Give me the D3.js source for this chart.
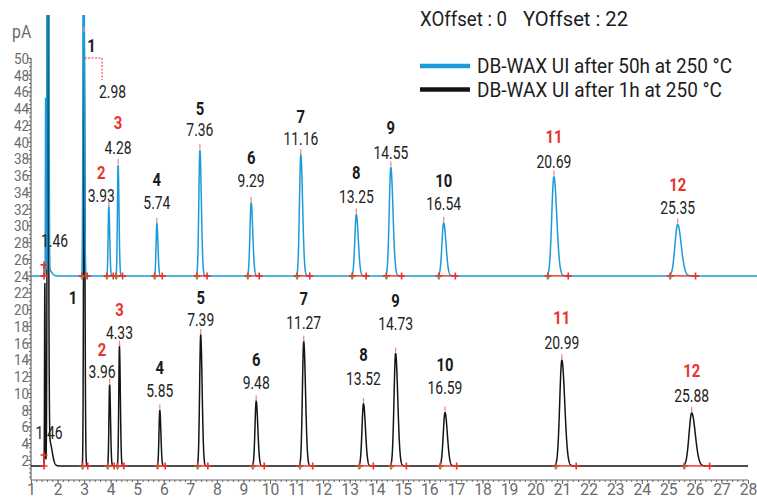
<!DOCTYPE html>
<html><head><meta charset="utf-8">
<script src="https://cdn.jsdelivr.net/npm/d3@7"></script>
<style>
html,body{margin:0;padding:0;background:#fff;}
svg{display:block;font-family:Roboto,"Liberation Sans",Arial,sans-serif;}
</style></head><body>
<svg id="chart" width="757" height="500"></svg>
<script>
// ================= DATA =================
const xTicks = d3.range(1, 29);            // retention time (min)
const yTicks = d3.range(2, 51, 2);         // signal (pA)
const xOffset = 0, yOffset = 22;

const peakIds  = ["1","2","3","4","5","6","7","8","9","10","11","12"];
const redPeaks = ["2","3","11","12"];

const seriesNames = ["DB-WAX UI after 50h at 250 °C", "DB-WAX UI after 1h at 250 °C"];

// Blue: after 50h (raw signal; shown with +22 pA offset)
const blueRT    = [2.98, 3.93, 4.28, 5.74, 7.36, 9.29, 11.16, 13.25, 14.55, 16.54, 20.69, 25.35];
const blueApex  = [60, 10.2, 15.2, 8.2, 17.0, 10.7, 16.4, 9.3, 14.9, 8.3, 13.8, 8.1];
const blueSigma = [0.02, 0.025, 0.025, 0.03, 0.04, 0.045, 0.05, 0.055, 0.06, 0.065, 0.08, 0.1];
const blueBase  = 1.97;
const blueSolventRT    = [1.55, 1.62, 1.66, 1.71];
const blueSolventApex  = [23.6, 70, 70, 2.6];
const blueSolventSigma = [0.008, 0.012, 0.012, 0.06];

// Black: after 1h
const blackRT    = [3.00, 3.96, 4.33, 5.85, 7.39, 9.48, 11.27, 13.52, 14.73, 16.59, 20.99, 25.88];
const blackApex  = [53, 11.0, 15.5, 7.9, 16.9, 9.0, 16.1, 8.7, 14.7, 7.65, 13.9, 7.6];
const blackSigma = [0.02, 0.025, 0.025, 0.03, 0.04, 0.045, 0.05, 0.055, 0.06, 0.065, 0.08, 0.1];
const blackBase  = 1.28;
const blackSolventRT    = [1.52, 1.63, 1.70];
const blackSolventApex  = [23, 70, 4.2];
const blackSolventSigma = [0.01, 0.02, 0.07];

const solventLabel = "1.46";

// ================= LAYOUT =================
const W = 757, H = 500;
const blueRtLift   = [0, 12, 18, 21, 21, 22, 17, 18, 15, 20, 15, 17];
const blueNumLift  = [0, 35, 43, 44, 42, 45, 39, 42, 40, 43, 40, 40];
const blackRtLift  = [0, 13, 14, 20, 16, 19, 19, 25, 30, 25, 18, 18];
const blackNumLift = [0, 35, 37, 43, 38, 42, 43, 49, 53, 48, 43, 43];
const labelShiftX  = [0, -7.5, 0, 0, 0, 0, 0, 0, 0, 0, 0, 0];

const BLUE = "#1b9bd8", BLACK = "#141414", RED = "#e8322a", AXIS = "#666", TICKTXT = "#6b6b6b";

const svg = d3.select("#chart");
const x = d3.scaleLinear().domain([1, 28]).range([31, 748]);
const y = d3.scaleLinear().domain([-0.4, 55]).range([480, 16]);

// ---------- axes ----------
const gyMinor = svg.append("g").attr("transform", "translate(31,0)")
  .call(d3.axisLeft(y).tickValues(d3.range(0, 50.01, 0.5)).tickSize(2).tickFormat(""));
const gy = svg.append("g").attr("transform", "translate(31,0)")
  .call(d3.axisLeft(y).tickValues(yTicks).tickSize(4).tickPadding(3));
[gyMinor, gy].forEach(g => { g.select(".domain").remove(); g.selectAll("line").attr("stroke", AXIS); });
gy.selectAll("text").attr("x", -2).attr("y", 0).attr("dy", "0.36em")
  .attr("transform", "scale(0.95,1.05)")
  .attr("font-size", 14.2).attr("fill", TICKTXT).attr("font-family", "Roboto");
svg.append("line").attr("x1", 31).attr("x2", 31).attr("y1", y(50)).attr("y2", 480)
  .attr("stroke", AXIS).attr("stroke-width", 1.2);

const gxMinor = svg.append("g").attr("transform", "translate(0,480)")
  .call(d3.axisBottom(x).tickValues(d3.range(1, 28.01, 0.2)).tickSize(2).tickFormat(""));
const gx = svg.append("g").attr("transform", "translate(0,480)")
  .call(d3.axisBottom(x).tickValues(xTicks).tickSize(4).tickPadding(2));
[gxMinor, gx].forEach(g => { g.select(".domain").remove(); g.selectAll("line").attr("stroke", AXIS); });
gx.selectAll("text").attr("transform", "scale(0.95,1)").attr("y", 3.5).attr("dy", "0.71em")
  .attr("font-size", 16.5).attr("fill", TICKTXT).attr("font-family", "Roboto");
svg.append("line").attr("x1", 31).attr("x2", 748).attr("y1", 480).attr("y2", 480)
  .attr("stroke", AXIS).attr("stroke-width", 1.2);

svg.append("text").attr("font-size", 18).attr("fill", TICKTXT)
  .attr("transform", "translate(12,38) scale(0.88,1)").text("pA");

// ---------- traces ----------
function signal(t, base, rts, apex, sig) {
  let v = base;
  for (let i = 0; i < rts.length; i++) {
    const s = t < rts[i] ? sig[i] : sig[i] * 1.35;
    const z = (t - rts[i]) / s;
    if (Math.abs(z) < 8) v += (apex[i] - base) * Math.exp(-0.5 * z * z);
  }
  return v;
}
const blueAllRT = blueSolventRT.concat(blueRT), blueAllA = blueSolventApex.concat(blueApex), blueAllS = blueSolventSigma.concat(blueSigma);
const blackAllRT = blackSolventRT.concat(blackRT), blackAllA = blackSolventApex.concat(blackApex), blackAllS = blackSolventSigma.concat(blackSigma);

const tBlack = d3.range(1, 28.0001, 0.004);
const tBlue = d3.range(1, 28.36, 0.004);
const blackPts = tBlack.map(t => [t, signal(t, blackBase, blackAllRT, blackAllA, blackAllS)]);
const bluePts = tBlue.map(t => [t, signal(t, blueBase, blueAllRT, blueAllA, blueAllS) + yOffset]);

svg.append("clipPath").attr("id", "clip").append("rect")
  .attr("x", 31).attr("y", 15).attr("width", W - 31).attr("height", 465);
const line = d3.line().x(d => x(d[0] + xOffset)).y(d => y(d[1]));
const plot = svg.append("g").attr("clip-path", "url(#clip)");
plot.append("path").datum(blackPts).attr("d", line).attr("fill", "none")
  .attr("stroke", BLACK).attr("stroke-width", 1.5);
plot.append("path").datum(bluePts).attr("d", line).attr("fill", "none")
  .attr("stroke", BLUE).attr("stroke-width", 1.5);

// ---------- integration marks ----------
function plus(g, px, py) {
  g.append("path").attr("d", `M${px-3.5},${py}H${px+3.5}M${px},${py-3.5}V${py+3.5}`)
    .attr("stroke", RED).attr("stroke-width", 1.6).attr("fill", "none");
}
function marks(rts, apex, sig, base, off) {
  const g = svg.append("g");
  const by = y(base + off);
  rts.forEach((rt, i) => {
    const s = rt - 2.8 * sig[i], e = rt + 5 * sig[i] * 1.35;
    g.append("line").attr("x1", x(s)).attr("x2", x(e)).attr("y1", by).attr("y2", by)
      .attr("stroke", RED).attr("stroke-width", 1.4);
    plus(g, x(s), by); plus(g, x(e), by);
    g.append("circle").attr("cx", x(s)).attr("cy", by + 1.5).attr("r", 1.5).attr("fill", "#6aa84f");
    const ay = y(apex[i] + off);
    if (ay > 20) g.append("line").attr("x1", x(rt)).attr("x2", x(rt)).attr("y1", ay - 1).attr("y2", ay - 6)
      .attr("stroke", "#f08a8a").attr("stroke-width", 1.3);
  });
  // solvent marker
  const sx = x(1.49);
  g.append("line").attr("x1", sx).attr("x2", sx).attr("y1", by).attr("y2", by - 11)
    .attr("stroke", RED).attr("stroke-width", 1.5);
  plus(g, sx, by); plus(g, sx, by - 11);
}
marks(blackRT, blackApex, blackSigma, blackBase, 0);
marks(blueRT, blueApex, blueSigma, blueBase, yOffset);

// ---------- peak labels ----------
function txt(str, cx, cy, size, bold, color, sx) {
  const cap = size * 0.36;
  svg.append("text").attr("transform", `translate(${cx},${cy + cap}) scale(${sx},1)`)
    .attr("text-anchor", "middle").attr("font-size", size)
    .attr("font-weight", bold ? 700 : 400).attr("fill", color).text(str);
}
const RTSIZE = 18.5, RTSX = 0.75, NUMSIZE = 18.5, NUMSX = 0.8;
function peakLabels(rts, apex, off, rtLift, numLift) {
  rts.forEach((rt, i) => {
    if (i === 0) return;
    const px = x(rt) + labelShiftX[i], ay = y(apex[i] + off);
    txt(rt.toFixed(2), px, ay - rtLift[i], RTSIZE, false, "#222", RTSX);
    const id = peakIds[i];
    txt(id, px, ay - numLift[i], NUMSIZE, true, redPeaks.includes(id) ? RED : "#1a1a1a", NUMSX);
  });
}
peakLabels(blueRT, blueApex, yOffset, blueRtLift, blueNumLift);
peakLabels(blackRT, blackApex, 0, blackRtLift, blackNumLift);

// peak 1 labels
txt(peakIds[0], x(blueRT[0]) + 8, 45, NUMSIZE, true, "#1a1a1a", NUMSX);
txt(blueRT[0].toFixed(2), x(blueRT[0]) + 29, 91, RTSIZE, false, "#222", RTSX);
svg.append("path").attr("d", `M${x(blueRT[0]) + 1},58H${x(blueRT[0]) + 18.5}V80`)
  .attr("fill", "none").attr("stroke", RED).attr("stroke-width", 1).attr("stroke-dasharray", "2,1.5");
txt(peakIds[0], x(blackRT[0]) - 11, 297, NUMSIZE, true, "#1a1a1a", NUMSX);
txt(solventLabel, 54.5, 240, RTSIZE, false, "#222", RTSX);
txt(solventLabel, 49, 432, RTSIZE, false, "#222", RTSX);

// ---------- header & legend ----------
svg.append("text").attr("x", 420).attr("y", 26).attr("font-size", 20.5).attr("fill", "#1d1d1d")
  .attr("textLength", 87).attr("lengthAdjust", "spacingAndGlyphs").text(`XOffset : ${xOffset}`);
svg.append("text").attr("x", 523).attr("y", 26).attr("font-size", 20.5).attr("fill", "#1d1d1d")
  .attr("textLength", 105).attr("lengthAdjust", "spacingAndGlyphs").text(`YOffset : ${yOffset}`);

const legend = [{c: BLUE, y: 66, w: 255}, {c: BLACK, y: 89.5, w: 245}];
legend.forEach((l, i) => {
  svg.append("line").attr("x1", 420).attr("x2", 470).attr("y1", l.y).attr("y2", l.y)
    .attr("stroke", l.c).attr("stroke-width", 4.5);
  svg.append("text").attr("x", 477).attr("y", l.y + 7.4).attr("font-size", 20.5).attr("fill", "#1d1d1d")
    .attr("textLength", l.w).attr("lengthAdjust", "spacingAndGlyphs").text(seriesNames[i]);
});
</script>
</body></html>
